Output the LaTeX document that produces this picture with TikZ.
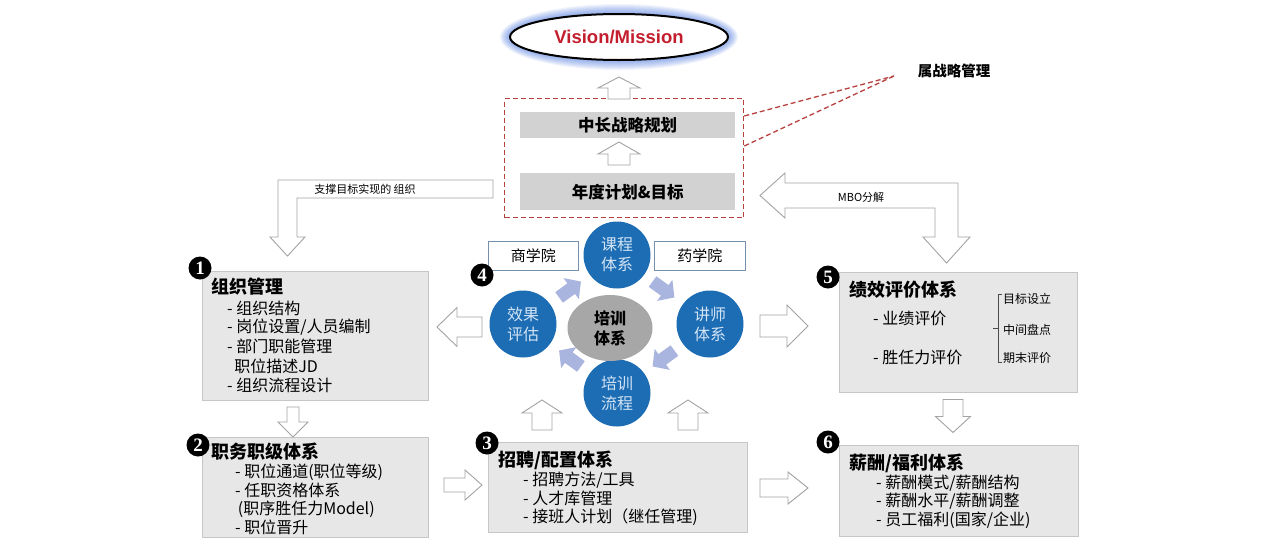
\documentclass[tikz,border=0pt]{standalone}
\usepackage{fontspec}
\setmainfont{Noto Sans CJK SC}
\newfontfamily\arialf{Liberation Sans}
\newfontfamily\timesf{Liberation Serif}
\usetikzlibrary{calc}
\definecolor{boxfill}{HTML}{E7E7E7}
\definecolor{boxline}{HTML}{C6C6C6}
\definecolor{bargray}{HTML}{D2D2D2}
\definecolor{arrgray}{HTML}{A3A3A3}
\definecolor{smallarr}{HTML}{A9B5DF}
\definecolor{cblue}{HTML}{1D6DB5}
\definecolor{ctext}{HTML}{D3E4F4}
\definecolor{coregray}{HTML}{A7A7A7}
\definecolor{dred}{HTML}{B8413F}
\definecolor{vred}{HTML}{C41E2E}
\definecolor{glow}{HTML}{3F6FE0}
\definecolor{labline}{HTML}{7590AE}
\tikzset{
  arrlen/.store in=\arrL, arrbody/.store in=\arrB, arrhead/.store in=\arrH, arrtip/.store in=\arrT,
  arrlen=30, arrbody=8, arrhead=16, arrtip=14,
  blockarr/.pic={\path[pic actions] (-\arrL/2,-\arrB) -- (\arrL/2-\arrT,-\arrB) -- (\arrL/2-\arrT,-\arrH) -- (\arrL/2,0) -- (\arrL/2-\arrT,\arrH) -- (\arrL/2-\arrT,\arrB) -- (-\arrL/2,\arrB) -- cycle;},
  hollow/.style={draw=arrgray, fill=white, line width=0.9pt, line join=miter},
  softarr/.style={fill=smallarr, draw=none},
  sbox/.style={draw=boxline, fill=boxfill, line width=0.8pt, anchor=north west, inner sep=0pt},
  bar/.style={fill=bargray, draw=none, anchor=north west, inner sep=0pt, font=\bfseries\fontsize{16.5}{19}\selectfont},
  badge/.style={circle, fill=black, text=white, inner sep=0pt, minimum size=23pt, font=\timesf\bfseries\fontsize{19}{19}\selectfont},
  bluec/.style={circle, fill=cblue, text=ctext, minimum size=67pt, inner sep=0pt, align=center, font=\fontsize{16}{20}\selectfont},
  ttl/.style={anchor=west, inner sep=0pt, font=\bfseries\fontsize{18}{20}\selectfont},
  itm/.style={anchor=west, inner sep=0pt, font=\fontsize{16}{19}\selectfont},
  smalltxt/.style={inner sep=0pt, font=\fontsize{11}{13}\selectfont},
  tinytxt/.style={anchor=west, inner sep=0pt, font=\fontsize{12}{14}\selectfont},
  labbox/.style={draw=labline, fill=white, line width=0.9pt, anchor=north west, inner sep=0pt, font=\fontsize{15}{18}\selectfont},
  dline/.style={dred, dash pattern=on 5pt off 3pt, line width=1.3pt},
}
\begin{document}
\begin{tikzpicture}[x=1pt,y=-1pt]
\useasboundingbox[fill=white] (0,0) rectangle (1280,544);

% ---------- Vision / Mission ----------
\coordinate (vmc) at (619,37);
\foreach \k in {1,...,10}
  \fill[glow, opacity=0.07] (vmc) ellipse [x radius={109pt+\k pt}, y radius={23pt+\k pt}];
\fill[white] (vmc) ellipse [x radius=109pt, y radius=23pt];
\draw[black, line width=2pt] (vmc) ellipse [x radius=109pt, y radius=23pt];
\node[inner sep=0pt, text=vred, font=\arialf\bfseries\fontsize{18.5}{20}\selectfont] (vm) at (vmc) {Vision/Mission};

% ---------- strategy block ----------
\node[dline, draw=dred, minimum width=239pt, minimum height=119pt, anchor=north west, inner sep=0pt] (strat) at (504,98) {};
\node[bar, minimum width=215pt, minimum height=26pt] (plan) at (520,112) {中长战略规划};
\node[bar, minimum width=215pt, minimum height=37pt] (goal) at (520,173) {年度计划\&目标};
\pic[hollow, rotate=90, arrlen=22, arrbody=11, arrhead=21, arrtip=11] at (619,88) {blockarr};
\pic[hollow, rotate=90, arrlen=23, arrbody=11, arrhead=21, arrtip=12] at (619,153.5) {blockarr};

\coordinate (conv) at (894,76);
\draw[dline] ($(strat.north east)+(0,18)$) -- (conv);
\draw[dline] ($(strat.north east)+(0,48)$) -- (conv);
\node[inner sep=0pt, font=\bfseries\fontsize{14.5}{17}\selectfont] (mgmt) at (954,71) {属战略管理};

% ---------- bent arrows ----------
\draw[hollow] (493,180) -- (278,180) -- (278,237) -- (270,237) -- (287.5,256) -- (305,237) -- (297,237) -- (297,198) -- (493,198) -- cycle;
\node[smalltxt] (lbl1) at (365,189) {支撑目标实现的 组织};
\draw[hollow] (760,195.5) -- (785,173) -- (785,183) -- (958,183) -- (958,237) -- (970,237) -- (946.5,263) -- (923,237) -- (935,237) -- (935,208) -- (785,208) -- (785,218) -- cycle;
\node[smalltxt] (lbl2) at (861,197) {MBO分解};

% ---------- box 1 ----------
\node[sbox, minimum width=226pt, minimum height=129pt] (b1) at (202,271) {};
\node[badge] (n1) at (200,268) {1};
\node[ttl] (b1t) at (211,287) {组织管理};
\foreach \t [count=\i] in {- 组织结构, - 岗位设置/人员编制, - 部门职能管理, {\ \ 职位描述JD}, - 组织流程设计}
  \node[itm] (b1i\i) at (227,{308+19.3*(\i-1)}) {\t};

% ---------- box 2 ----------
\node[sbox, minimum width=226pt, minimum height=100pt] (b2) at (202,437) {};
\node[badge] (n2) at (198,445) {2};
\node[ttl] (b2t) at (211,452) {职务职级体系};
\foreach \t [count=\i] in {- 职位通道(职位等级), - 任职资格体系, {\,(职序胜任力Model)}, - 职位晋升}
  \node[itm] (b2i\i) at (235,{472.5+18.3*(\i-1)}) {\t};
\pic[hollow, rotate=-90, arrlen=30, arrbody=6, arrhead=15, arrtip=15] at (293,422) {blockarr};

% ---------- box 3 ----------
\node[sbox, minimum width=259pt, minimum height=90pt] (b3) at (488,442) {};
\node[badge] (n3) at (487,443) {3};
\node[ttl] (b3t) at (498,460) {招聘/配置体系};
\foreach \t [count=\i] in {- 招聘方法/工具, - 人才库管理, - 接班人计划（继任管理)}
  \node[itm] (b3i\i) at (523,{480+18.5*(\i-1)}) {\t};
\pic[hollow, rotate=0, arrlen=38, arrbody=7, arrhead=15, arrtip=17] at (463,485) {blockarr};
\pic[hollow, rotate=90, arrlen=30, arrbody=10, arrhead=20, arrtip=13] at (542,415) {blockarr};
\pic[hollow, rotate=90, arrlen=30, arrbody=10, arrhead=20, arrtip=13] at (688,415) {blockarr};

% ---------- box 5 ----------
\node[sbox, minimum width=238pt, minimum height=120pt] (b5) at (839,272) {};
\node[badge] (n5) at (828,277) {5};
\node[ttl] (b5t) at (849,290) {绩效评价体系};
\node[itm] (b5i1) at (873,318) {- 业绩评价};
\node[itm] (b5i2) at (873,357) {- 胜任力评价};
\draw[black!70, line width=0.7pt] (1002,294) -- (998,294) -- (998,362) -- (1002,362);
\draw[black!70, line width=0.7pt] (993,328.5) -- (998,328.5);
\node[tinytxt] (s1) at (1003,299) {目标设立};
\node[tinytxt] (s2) at (1003,329.5) {中间盘点};
\node[tinytxt] (s3) at (1003,358) {期末评价};
\pic[hollow, rotate=-90, arrlen=33, arrbody=10, arrhead=17.5, arrtip=16] at (953,416) {blockarr};

% ---------- box 6 ----------
\node[sbox, minimum width=239pt, minimum height=91pt] (b6) at (839,445) {};
\node[badge] (n6) at (828,442) {6};
\node[ttl] (b6t) at (849,463) {薪酬/福利体系};
\foreach \t [count=\i] in {- 薪酬模式/薪酬结构, - 薪酬水平/薪酬调整, - 员工福利(国家/企业)}
  \node[itm] (b6i\i) at (876,{483+18.5*(\i-1)}) {\t};
\pic[hollow, rotate=0, arrlen=48, arrbody=9, arrhead=16, arrtip=20] at (784,488) {blockarr};

% ---------- training wheel ----------
\node[labbox, minimum width=90pt, minimum height=29pt] (bs) at (488,241) {商学院};
\node[labbox, minimum width=91pt, minimum height=29pt] (ps) at (654,241) {药学院};
\node[bluec] (c1) at (617,255) {课程\\体系};
\node[bluec] (c2) at (710,324) {讲师\\体系};
\node[bluec] (c3) at (617,393) {培训\\流程};
\node[bluec] (c4) at (523,324) {效果\\评估};
\fill[coregray] (610,328) ellipse [x radius=42.5pt, y radius=33pt];
\node[inner sep=0pt, align=center, font=\bfseries\fontsize{16}{20}\selectfont] (core) at (610,328) {培训\\体系};
\node[badge] (n4) at (482,275) {4};
\pic[softarr, rotate=36, arrlen=27, arrbody=6.5, arrhead=13, arrtip=12] at ($(c4)!0.5!(c1)$) {blockarr};
\pic[softarr, rotate=-36, arrlen=27, arrbody=6.5, arrhead=13, arrtip=12] at ($(c1)!0.5!(c2)$) {blockarr};
\pic[softarr, rotate=-144, arrlen=27, arrbody=6.5, arrhead=13, arrtip=12] at ($(c2)!0.5!(c3)$) {blockarr};
\pic[softarr, rotate=144, arrlen=27, arrbody=6.5, arrhead=13, arrtip=12] at ($(c3)!0.5!(c4)$) {blockarr};
\pic[hollow, rotate=180, arrlen=45, arrbody=10, arrhead=19.5, arrtip=20] at (459.5,327) {blockarr};
\pic[hollow, rotate=0, arrlen=48, arrbody=11, arrhead=21, arrtip=21] at (784,326) {blockarr};
\end{tikzpicture}
\end{document}
